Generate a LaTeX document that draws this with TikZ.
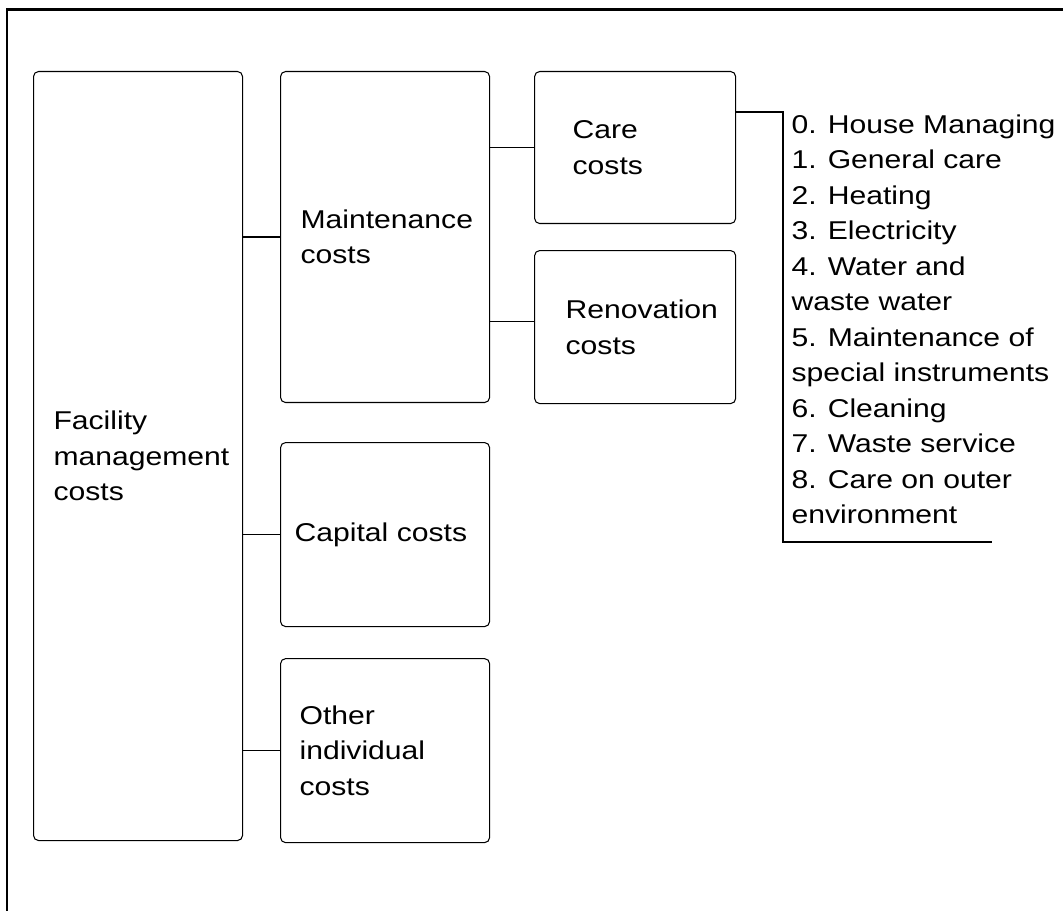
\documentclass[tikz,border=0pt]{standalone}
\usepackage{fontspec}
\setmainfont[FakeStretch=1.17]{Liberation Sans}
\usetikzlibrary{positioning}

\begin{document}
\begin{tikzpicture}[-,auto,node distance=0.8cm,line width=0.6pt,
                cost box/.style={rectangle,draw,rounded corners=0.1cm,inner sep=0pt,
                  align=left,font=\fontsize{14.65pt}{20.2pt}\selectfont},
                item list/.style={inner sep=0pt,align=left,
                  font=\fontsize{14.65pt}{20.2pt}\selectfont}]

  \useasboundingbox (0,0) rectangle (21.26,-18.22);
  % frame, only top and left
  \draw[line width=1.7pt] (21.26,-0.19) -- (0.14,-0.19) -- (0.14,-18.22);

  \node[cost box,minimum width=4.18cm,minimum height=15.38cm,text width=3.38cm,
        anchor=north west] (facility) at (0.66,-1.42) {Facility\\management\\costs};
  \node[cost box,minimum width=4.18cm,minimum height=6.62cm,text width=3.38cm]
    (maint) [right=0.74cm of facility.north east,anchor=north west] {Maintenance\\costs};
  \node[cost box,minimum width=4.02cm,minimum height=3.04cm,text width=2.5cm]
    (care) [right=0.88cm of maint.north east,anchor=north west] {Care\\costs};
  \node[cost box,minimum width=4.02cm,minimum height=3.06cm,text width=2.78cm]
    (renov) [below=0.52cm of care] {Renovation\\costs};
  \node[cost box,minimum width=4.18cm,minimum height=3.68cm,text width=3.62cm]
    (capital) [below=0.78cm of maint] {Capital costs};
  \node[cost box,minimum width=4.18cm,minimum height=3.68cm,text width=3.42cm]
    (other) [below=0.62cm of capital] {Other\\individual\\costs};

  \node[item list,anchor=north west] (list) at (15.82,-2.28)
    {0. House Managing\\1. General care\\2. Heating\\3. Electricity\\
     4. Water and\\waste water\\5. Maintenance of\\special instruments\\
     6. Cleaning\\7. Waste service\\8. Care on outer\\environment};

  \coordinate (care out) at ([yshift=-0.82cm]care.north east);
  \coordinate (bend) at (15.66,-10.84);
  \coordinate (tail) at (19.84,-10.84);

  \draw (facility.east |- maint.west) -- (maint.west);
  \draw (facility.east |- capital.west) -- (capital.west);
  \draw (facility.east |- other.west) -- (other.west);
  \draw (maint.east |- care.west) -- (care.west);
  \draw ([yshift=0.11cm]maint.east |- renov.west) -- ([yshift=0.11cm]renov.west);
  \draw (care out) -| (bend) -- (tail);

\end{tikzpicture}
\end{document}
